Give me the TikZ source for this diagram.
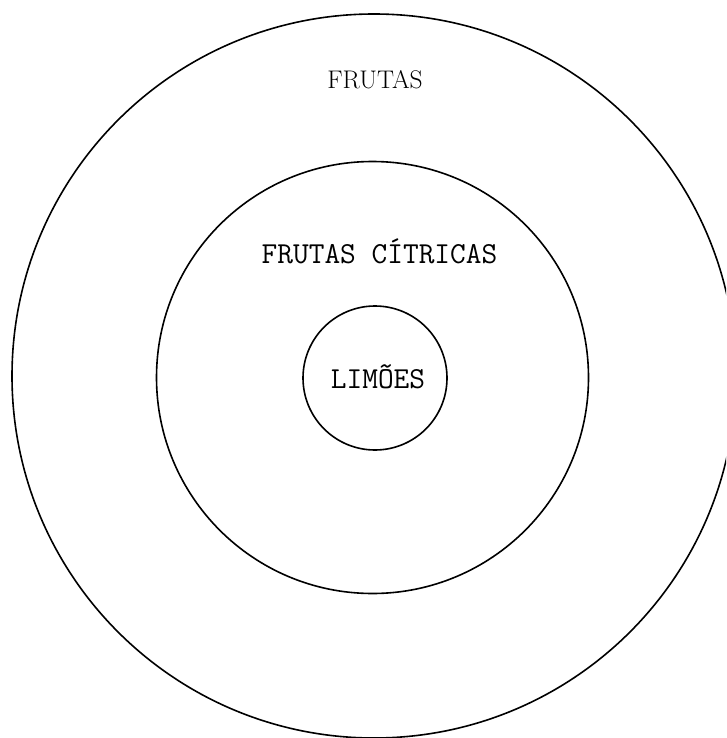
\documentclass[tikz,border=0pt]{standalone}
\usepackage{tikz}
\usetikzlibrary{positioning}

\begin{document}
\begin{tikzpicture}[x=1pt,y=-1pt,
    ring/.style={line width=1.6pt},
    toplabel/.style={anchor=base, font=\fontsize{25.5}{28}\selectfont\rmfamily},
    typelabel/.style={anchor=base, font=\fontsize{30.5}{33}\selectfont\ttfamily}]
  % Page frame (the outer ring runs past the right and bottom edges)
  \useasboundingbox (0,0) rectangle (726,738);
  \clip (0,0) rectangle (726,738);

  % Centres of the three rings
  \coordinate (cfrutas) at (374,376);
  \coordinate (ccitricas) at (372.5,377.5);
  \coordinate (climoes) at (375,378);

  % Rings
  \draw[ring] (cfrutas) circle[radius=362];
  \draw[ring] (ccitricas) circle[radius=216];
  \draw[ring] (climoes) circle[radius=72];

  % Labels
  \node[toplabel] (frutas) at (375,89) {FRUTAS};
  \node[typelabel] (citricas) at (379.5,263) {FRUTAS CÍTRICAS};
  \node[typelabel] (limoes) at (378,388) {LIMÕES};
\end{tikzpicture}
\end{document}
